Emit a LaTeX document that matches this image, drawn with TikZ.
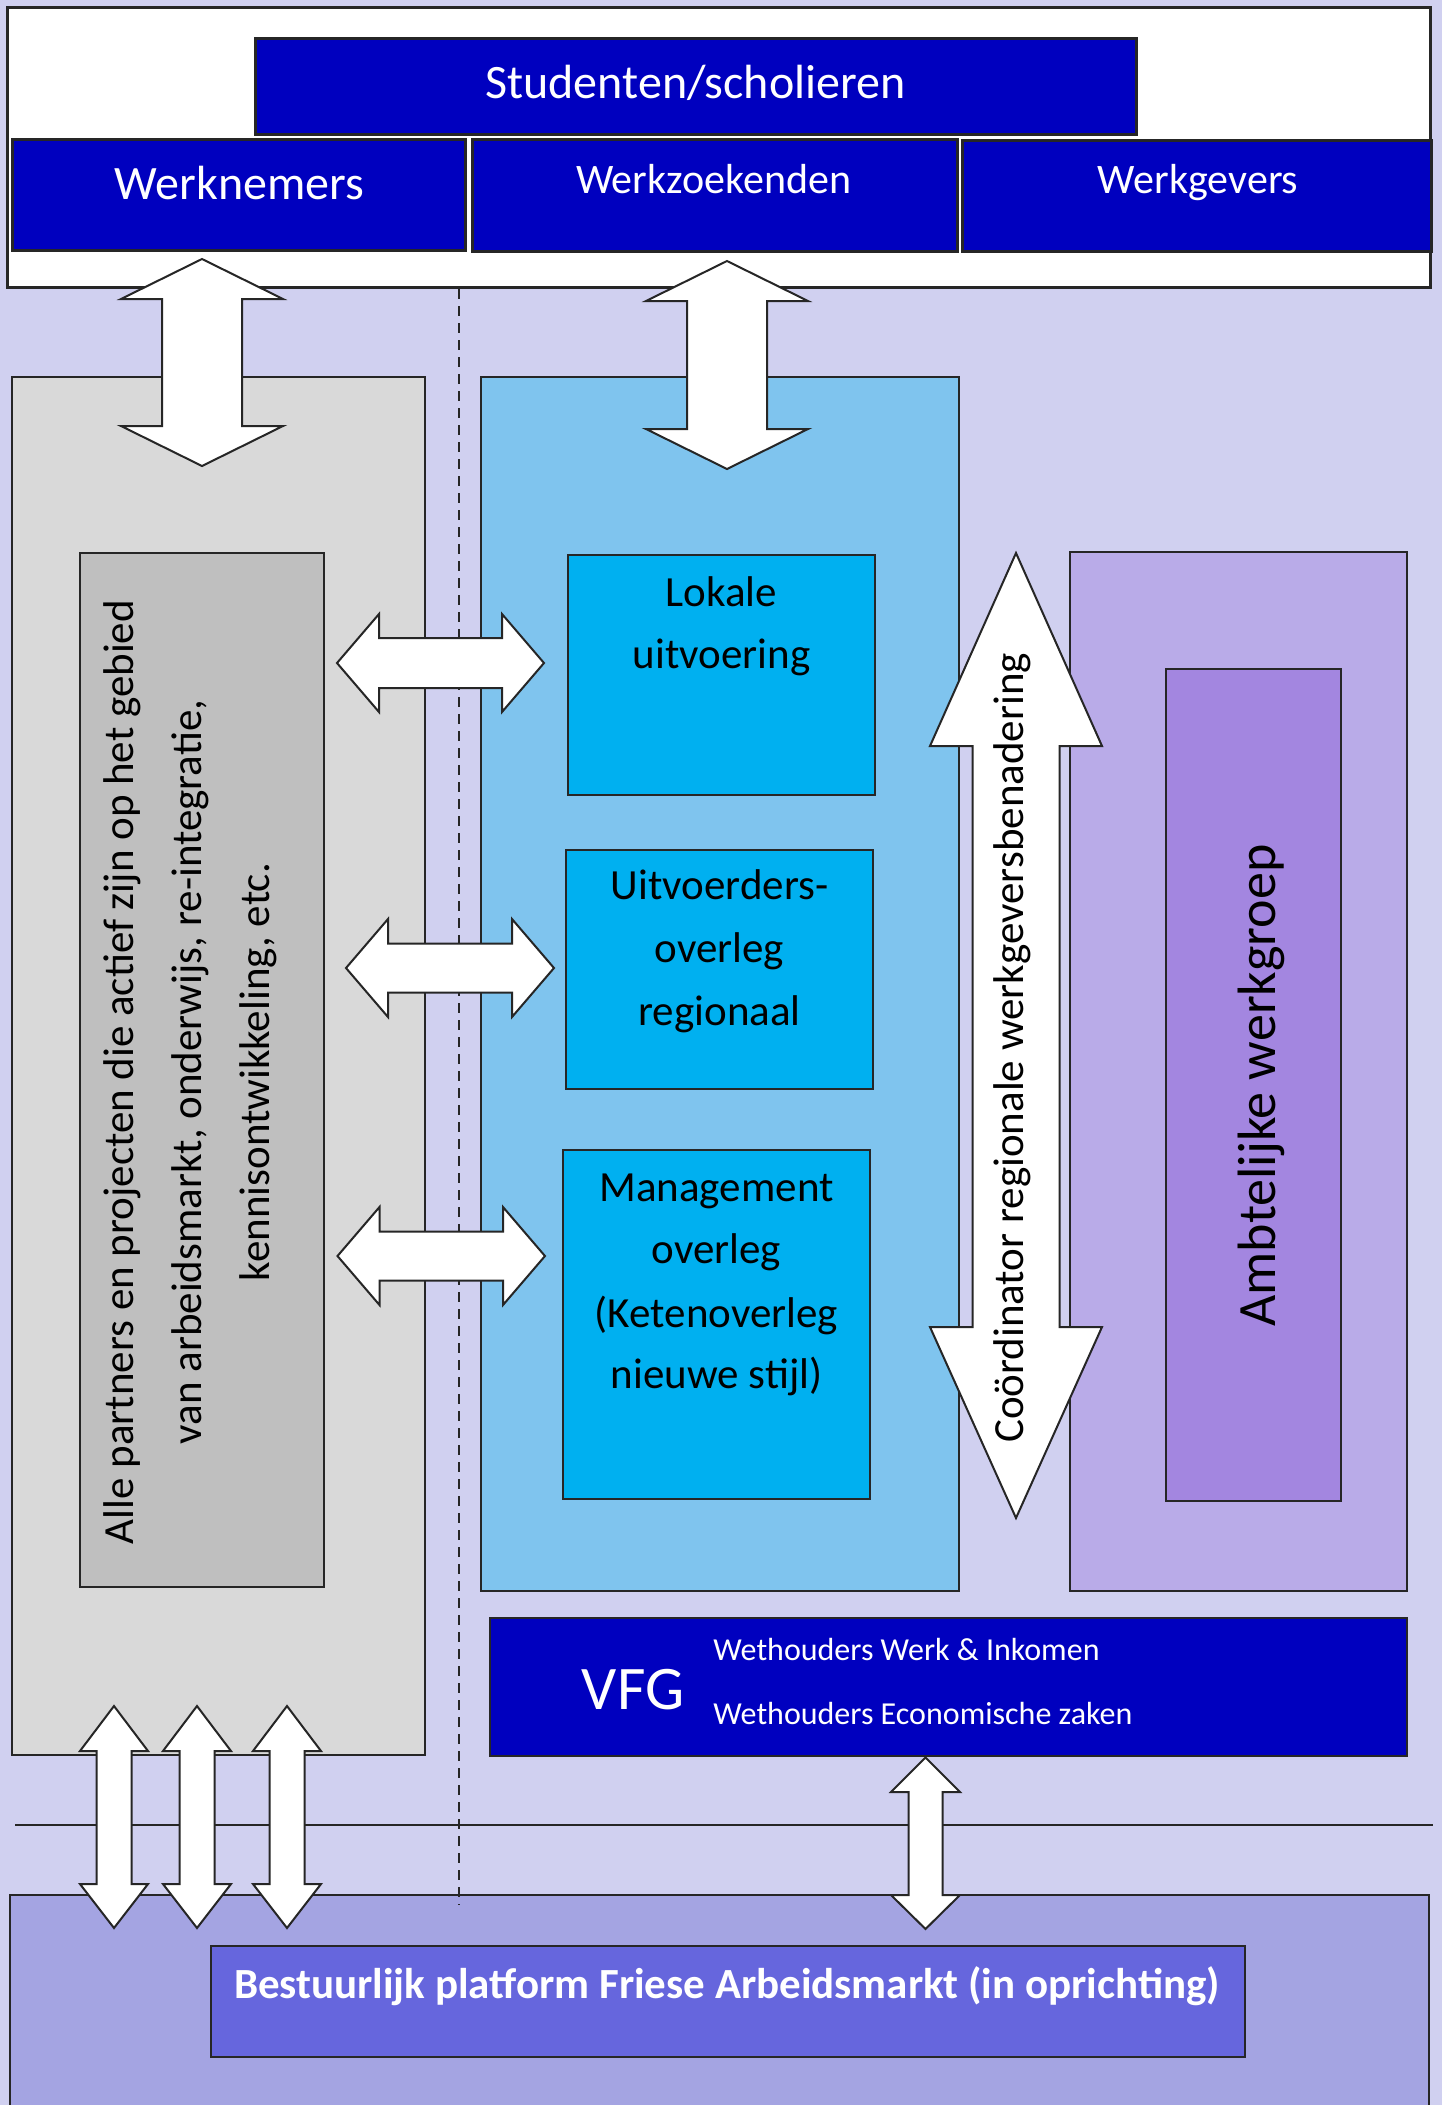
\documentclass[tikz,border=0pt]{standalone}
\usepackage{fontspec}
\setmainfont{Carlito}
\usetikzlibrary{fit}

\definecolor{bgLav}{HTML}{D0D0F0}
\definecolor{navyBox}{HTML}{0000BF}
\definecolor{greyOut}{HTML}{D9D9D9}
\definecolor{greyIn}{HTML}{BFBFBF}
\definecolor{skyBox}{HTML}{7FC4EE}
\definecolor{cyanBox}{HTML}{00B0F0}
\definecolor{lilacOut}{HTML}{B9ABE8}
\definecolor{lilacIn}{HTML}{A386E0}
\definecolor{baseBand}{HTML}{A4A4E2}
\definecolor{platBox}{HTML}{6666DD}

% font size given in points, single line use
\newcommand\FS[1]{\fontsize{#1pt}{#1pt}\selectfont}

% vertical double block arrow: cx, top tip, bottom tip, head half width, shaft half width, top head length, bottom head length
\newcommand\BlockArrowV[7]{%
  \path[barrow] (#1,#2) -- (#1+#4,#2+#6) -- (#1+#5,#2+#6) -- (#1+#5,#3-#7) -- (#1+#4,#3-#7)
    -- (#1,#3) -- (#1-#4,#3-#7) -- (#1-#5,#3-#7) -- (#1-#5,#2+#6) -- (#1-#4,#2+#6) -- cycle;}
% horizontal double block arrow: cy, left tip, right tip, head half width, shaft half width, head length
\newcommand\BlockArrowH[6]{%
  \path[barrow] (#2,#1) -- (#2+#6,#1-#4) -- (#2+#6,#1-#5) -- (#3-#6,#1-#5) -- (#3-#6,#1-#4)
    -- (#3,#1) -- (#3-#6,#1+#4) -- (#3-#6,#1+#5) -- (#2+#6,#1+#5) -- (#2+#6,#1+#4) -- cycle;}

\begin{document}
\begin{tikzpicture}[x=0.5pt, y=-0.5pt,
  box/.style={draw=black!85, line width=1pt, inner sep=0pt, outer sep=0pt},
  frame/.style={box, line width=1.5pt},
  barrow/.style={fill=white, draw=black!85, line width=1pt, line join=miter},
  wtxt/.style={text=white, inner sep=0pt, anchor=base},
  btxt/.style={text=black, inner sep=0pt, anchor=base, font=\FS{21.5}},
  vtxt/.style={btxt, rotate=90},
  divider/.style={draw=black!85, line width=1pt}]

\useasboundingbox (0,0) rectangle (1442,2105);
\clip (0,0) rectangle (1442,2105);
\fill[bgLav] (0,0) rectangle (1442,2105);

% ---- target groups on top ----
\node[frame, fill=white, fit={(7,7) (1430,287)}] (groups) {};
\node[frame, fill=navyBox, fit={(255,38) (1136,134)}] (stud) {};
\node[frame, fill=navyBox, fit={(12,139) (465,250)}] (wnem) {};
\node[frame, fill=navyBox, fit={(472,139) (957,251)}] (wzoek) {};
\node[frame, fill=navyBox, fit={(962,140) (1431,251)}] (wgev) {};

% ---- partners column ----
\node[box, fill=greyOut, fit={(12,377) (425,1755)}] (partners) {};
\node[box, fill=greyIn, fit={(80,553) (324,1587)}] (partnersIn) {};

% ---- execution column ----
\node[box, fill=skyBox, fit={(481,377) (959,1591)}] (exec) {};
\node[box, fill=cyanBox, fit={(568,555) (875,795)}] (lokaal) {};
\node[box, fill=cyanBox, fit={(566,850) (873,1089)}] (uitv) {};
\node[box, fill=cyanBox, fit={(563,1150) (870,1499)}] (mgmt) {};

% ---- civil servants ----
\node[box, fill=lilacOut, fit={(1070,552) (1407,1591)}] (ambt) {};
\node[box, fill=lilacIn, fit={(1166,669) (1341,1501)}] (ambtIn) {};

% ---- VFG ----
\node[box, fill=navyBox, fit={(490,1618) (1407,1756)}] (vfg) {};

% ---- separators ----
\coordinate (sepL) at (15,1825);
\coordinate (sepR) at (1433,1825);
\draw[divider, line width=1.2pt] (sepL) -- (sepR);

% ---- governing platform band ----
\node[box, fill=baseBand, fit={(10,1895) (1429,2115)}] (band) {};
\node[box, fill=platBox, fit={(211,1946) (1245,2057)}] (platform) {};

\coordinate (divTop) at (459,289);
\coordinate (divBot) at (459,1905);
\draw[divider, dash pattern=on 5pt off 3.5pt] (divTop) -- (divBot);

% ---- block arrows ----
\BlockArrowV{202}{259}{466}{81}{40}{40}{40}
\BlockArrowV{727}{261}{469}{81}{40}{40}{40}
\BlockArrowH{663}{337}{544}{49}{25}{42}
\BlockArrowH{968}{346}{554}{49}{24.5}{42}
\BlockArrowH{1256}{337.5}{545}{49}{24.5}{42}
\BlockArrowV{1016}{553}{1518}{86}{43.5}{193}{191}
\BlockArrowV{114}{1706}{1928}{34}{17.5}{45}{44}
\BlockArrowV{197}{1706}{1928}{34}{17.5}{45}{44}
\BlockArrowV{287}{1706}{1928}{34}{17.5}{45}{44}
\BlockArrowV{925.5}{1757.5}{1929}{34.5}{17}{34.5}{34}

% ---- texts ----
\node[wtxt, font=\FS{24}] (tStud) at (695.5,98) {Studenten/scholieren};
\node[wtxt, font=\FS{24}] (tWnem) at (239.5,199) {Werknemers};
\node[wtxt, font=\FS{21}] (tWzoek) at (713.5,193) {Werkzoekenden};
\node[wtxt, font=\FS{21}] (tWgev) at (1198,193.5) {Werkgevers};

\node[btxt] (tLok1) at (721.5,606) {Lokale};
\node[btxt] (tLok2) at (721.5,668) {uitvoering};

\node[btxt] (tUit1) at (719.5,899) {Uitvoerders-};
\node[btxt] (tUit2) at (719.5,962) {overleg};
\node[btxt] (tUit3) at (719.5,1025) {regionaal};

\node[btxt] (tMan1) at (716.5,1201) {Management};
\node[btxt] (tMan2) at (716.5,1263) {overleg};
\node[btxt] (tMan3) at (716.5,1327) {(Ketenoverleg};
\node[btxt] (tMan4) at (716.5,1388) {nieuwe stijl)};

\node[vtxt] (tPar1) at (133,1072) {Alle partners en projecten die actief zijn op het gebied};
\node[vtxt] (tPar2) at (201,1072) {van arbeidsmarkt, onderwijs, re-integratie,};
\node[vtxt] (tPar3) at (269,1072) {kennisontwikkeling, etc.};

\node[vtxt] (tCoord) at (1023,1048) {Coördinator regionale werkgeversbenadering};
\node[vtxt, font=\FS{27}] (tAmbt) at (1275,1085.5) {Ambtelijke werkgroep};

\node[wtxt, font=\FS{31}] (tVfg) at (633,1709) {VFG};
\node[wtxt, anchor=base west, font=\FS{16}] (tWeth1) at (713,1660) {Wethouders Werk \& Inkomen};
\node[wtxt, anchor=base west, font=\FS{16}] (tWeth2) at (713,1724) {Wethouders Economische zaken};

\node[wtxt, font=\FS{21.5}\bfseries] (tPlat) at (727,1998) {Bestuurlijk platform Friese Arbeidsmarkt (in oprichting)};

\end{tikzpicture}
\end{document}
